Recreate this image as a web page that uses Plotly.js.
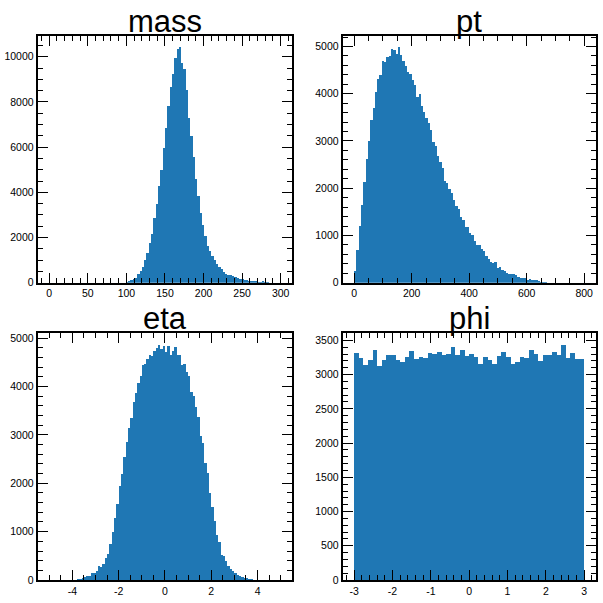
<!DOCTYPE html>
<html>
<head>
<meta charset="utf-8">
<script src="https://cdn.plot.ly/plotly-3.0.1.min.js"></script>
<style>
  html, body { margin: 0; padding: 0; background: #fff; }
  #grafico { width: 603px; height: 603px; }
</style>
</head>
<body>
<div id="grafico"></div>
<script>
// histogramas (contagens lidas por bin)
const titles = ['mass', 'pt', 'eta', 'phi'];

// mass: bins de 3, primeiro bin começa em 99
const massStart = 99, massStep = 3;
const massCounts = [40, 80, 110, 150, 200, 370, 520, 700, 1000, 1300,
  1760, 2160, 2850, 3490, 4290, 5000, 5960, 6860, 7840, 8670,
  9250, 9930, 10330, 10410, 9730, 9440, 8510, 7300, 6510, 5560,
  4600, 3850, 3100, 2550, 2070, 1630, 1410, 1180, 1000, 810,
  680, 590, 490, 400, 355, 320, 280, 237, 190, 150,
  150, 120, 100, 90, 75, 60, 60, 45, 45, 75, 20, 10];

// pt: bins de 8, começa em 0
const ptStart = 0, ptStep = 8;
const ptCounts = [240, 700, 1210, 1650, 2140, 2610, 3010, 3450, 3690, 4040,
  4320, 4390, 4700, 4680, 4770, 4800, 4950, 4920, 4850, 4980,
  4820, 4700, 4580, 4460, 4410, 4300, 4180, 3930, 4000, 3750,
  3620, 3490, 3380, 3240, 2970, 2890, 2680, 2560, 2430, 2150,
  2120, 1985, 1900, 1750, 1625, 1560, 1390, 1330, 1180, 1170,
  1050, 1010, 880, 800, 790, 710, 670, 565, 500, 440,
  415, 435, 310, 330, 270, 240, 205, 185, 185, 185,
  160, 120, 100, 100, 100, 56, 78, 56, 56, 56, 35, 20, 10, 5];

// eta: bins de 0.1, começa em -3.9
const etaStart = -3.9, etaStep = 0.1;
const etaCounts = [10, 25, 30, 35, 55, 75, 75, 137, 137, 180,
  280, 260, 340, 450, 530, 735, 1000, 1290, 1580, 1945,
  2200, 2550, 2860, 3150, 3350, 3680, 3870, 4070, 4220, 4440,
  4460, 4570, 4650, 4630, 4730, 4790, 4860, 4770, 4840, 4710,
  4830, 4650, 4730, 4810, 4650, 4650, 4440, 4460, 4300, 4220,
  3890, 3800, 3580, 3370, 2980, 2840, 2420, 2220, 1790, 1500,
  1230, 940, 780, 510, 490, 385, 280, 220, 180, 137,
  110, 82, 55, 40, 40, 27, 27];

// phi: 50 bins de 0.12 entre -3 e 3
const phiStart = -3, phiStep = 0.12;
const phiCounts = [3315, 3242, 3140, 3213, 3360, 3126, 3213, 3286, 3286, 3213,
  3184, 3257, 3344, 3228, 3257, 3242, 3315, 3300, 3330, 3286,
  3300, 3403, 3286, 3360, 3272, 3300, 3257, 3155, 3257, 3213,
  3155, 3272, 3330, 3257, 3155, 3184, 3257, 3242, 3360, 3300,
  3199, 3286, 3286, 3330, 3286, 3432, 3242, 3315, 3228, 3228];

// rótulos dos ticks com hífen simples
const etaTickVals = [-4, -2, 0, 2, 4];
const etaTickText = ['-4', '-2', '0', '2', '4'];
const phiTickVals = [-3, -2, -1, 0, 1, 2, 3];
const phiTickText = ['-3', '-2', '-1', '0', '1', '2', '3'];

const blue = '#1f77b4';
const fonte = 'Liberation Sans, Arial, Helvetica, sans-serif';

function centros(start, step, counts) {
  return counts.map((c, i) => start + step * (i + 0.5));
}

function barras(start, step, counts, n) {
  return {
    type: 'bar',
    x: centros(start, step, counts),
    y: counts,
    width: step,
    xaxis: 'x' + (n > 1 ? n : ''),
    yaxis: 'y' + (n > 1 ? n : ''),
    marker: {color: blue, line: {width: 0}},
    hoverinfo: 'skip',
    showlegend: false
  };
}

function eixo(extra) {
  const minor = Object.assign({ticks: 'inside', ticklen: 5, tickwidth: 1, tickcolor: '#000', showgrid: false}, extra.minor || {});
  const out = Object.assign({
    showline: true, linecolor: '#000', linewidth: 2, mirror: 'allticks',
    ticks: 'inside', ticklen: 10, tickwidth: 1, tickcolor: '#000',
    showgrid: false, zeroline: false,
    tickfont: {family: fonte, size: 10.5, color: '#000'}
  }, extra);
  out.minor = minor;
  return out;
}

const xL = [0.0625, 0.4847], xR = [0.5683, 0.9879];
const yT = [0.5312, 0.9408], yB = [0.0381, 0.4473];

const data = [
  barras(massStart, massStep, massCounts, 1),
  barras(ptStart, ptStep, ptCounts, 2),
  barras(etaStart, etaStep, etaCounts, 3),
  barras(phiStart, phiStep, phiCounts, 4)
];

const topo = c => Math.max(...c) * 1.05;

const layout = {
  width: 603, height: 603,
  margin: {l: 0, r: 0, t: 0, b: 0},
  paper_bgcolor: '#fff', plot_bgcolor: '#fff',
  bargap: 0,
  xaxis: eixo({domain: xL, anchor: 'y', range: [-15, 315], dtick: 50, minor: {dtick: 10}}),
  yaxis: eixo({domain: yT, anchor: 'x', range: [0, topo(massCounts)], dtick: 2000, tickformat: 'd', minor: {dtick: 500}}),
  xaxis2: eixo({domain: xR, anchor: 'y2', range: [-40, 840], dtick: 200, minor: {dtick: 50}}),
  yaxis2: eixo({domain: yT, anchor: 'x2', range: [0, topo(ptCounts)], dtick: 1000, tickformat: 'd', minor: {dtick: 200}}),
  xaxis3: eixo({domain: xL, anchor: 'y3', range: [-5.5, 5.5], tickmode: 'array', tickvals: etaTickVals, ticktext: etaTickText, minor: {dtick: 0.5, tick0: 0}}),
  yaxis3: eixo({domain: yB, anchor: 'x3', range: [0, topo(etaCounts)], dtick: 1000, tickformat: 'd', minor: {dtick: 200}}),
  xaxis4: eixo({domain: xR, anchor: 'y4', range: [-3.3, 3.3], tickmode: 'array', tickvals: phiTickVals, ticktext: phiTickText, minor: {dtick: 0.2, tick0: 0}}),
  yaxis4: eixo({domain: yB, anchor: 'x4', range: [0, topo(phiCounts)], dtick: 500, tickformat: 'd', minor: {dtick: 100}}),
  annotations: titles.map((t, i) => {
    const dx = i % 2 === 0 ? xL : xR;
    const dy = i < 2 ? yT : yB;
    return {
      text: t, xref: 'paper', yref: 'paper',
      x: (dx[0] + dx[1]) / 2, y: dy[1],
      xanchor: 'center', yanchor: 'bottom', yshift: -5,
      showarrow: false,
      font: {family: fonte, size: 31, color: '#000'}
    };
  })
};

Plotly.newPlot('grafico', data, layout, {staticPlot: true, displayModeBar: false});
</script>
</body>
</html>
